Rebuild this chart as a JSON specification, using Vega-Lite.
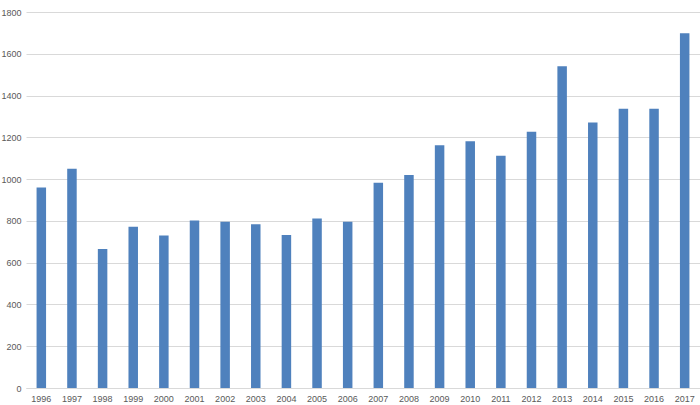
{
  "$schema": "https://vega.github.io/schema/vega-lite/v6.json",
  "width": 700,
  "height": 405,
  "autosize": {"type": "fit", "contains": "padding"},
  "padding": {"left": 0, "top": 8, "right": 0, "bottom": 2},
  "background": "white",
  "config": {"view": {"stroke": null}, "font": "Liberation Sans"},
  "data": {"values": [
    {"year": "1996", "value": 960},
    {"year": "1997", "value": 1050},
    {"year": "1998", "value": 665},
    {"year": "1999", "value": 772},
    {"year": "2000", "value": 730},
    {"year": "2001", "value": 802},
    {"year": "2002", "value": 796},
    {"year": "2003", "value": 784},
    {"year": "2004", "value": 733},
    {"year": "2005", "value": 812},
    {"year": "2006", "value": 796},
    {"year": "2007", "value": 982},
    {"year": "2008", "value": 1020},
    {"year": "2009", "value": 1162},
    {"year": "2010", "value": 1181},
    {"year": "2011", "value": 1112},
    {"year": "2012", "value": 1227},
    {"year": "2013", "value": 1540},
    {"year": "2014", "value": 1271},
    {"year": "2015", "value": 1337},
    {"year": "2016", "value": 1337},
    {"year": "2017", "value": 1698}
  ]},
  "mark": {"type": "bar", "color": "#4f81bd"},
  "encoding": {
    "x": {
      "field": "year", "type": "ordinal", "title": null,
      "scale": {"paddingInner": 0.69, "paddingOuter": 0.345},
      "axis": {"labelAngle": 0, "ticks": false, "domainColor": "#d9d9d9", "labelColor": "#595959", "labelFontSize": 9, "labelPadding": 6}
    },
    "y": {
      "field": "value", "type": "quantitative", "title": null,
      "scale": {"domain": [0, 1800], "nice": false},
      "axis": {"values": [0,200,400,600,800,1000,1200,1400,1600,1800], "format": "d", "domain": false, "ticks": false, "gridColor": "#d9d9d9", "labelColor": "#595959", "labelFontSize": 9, "labelPadding": 5}
    }
  }
}
